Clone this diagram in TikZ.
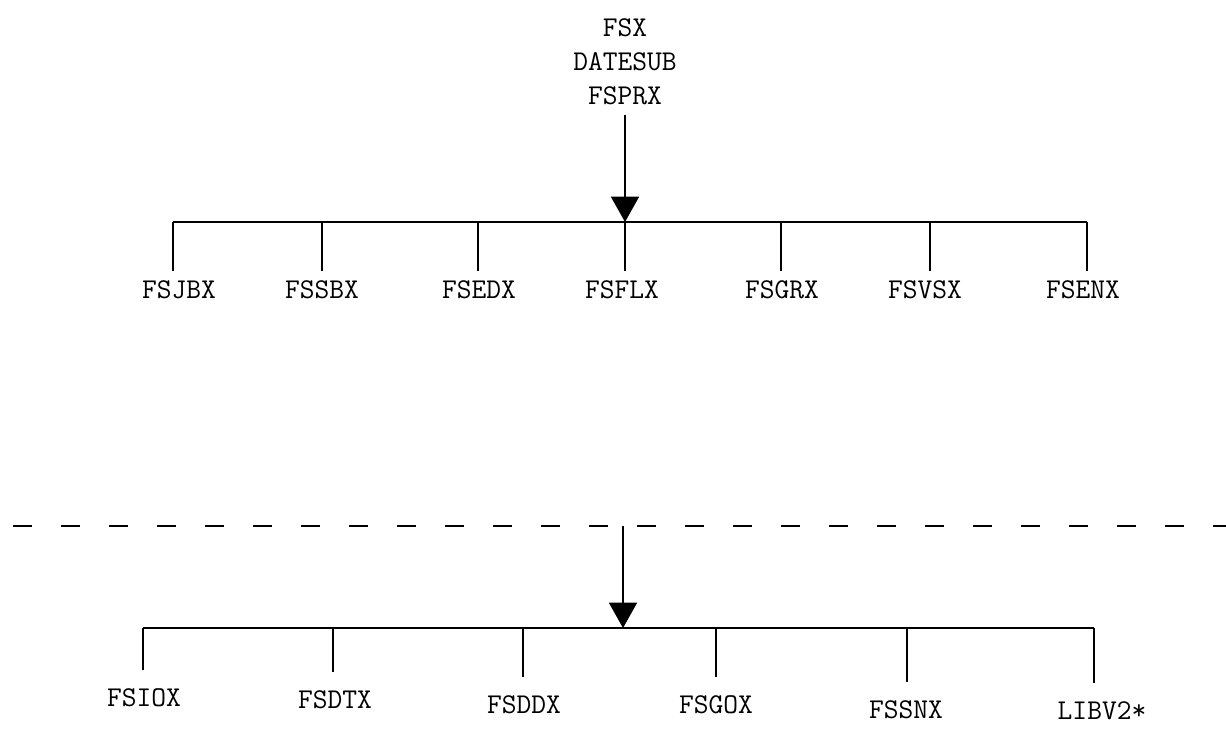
\documentclass[tikz,border=0pt]{standalone}
\usepackage{fontspec}
\usetikzlibrary{arrows.meta}
\tikzset{
  mod/.style={font=\ttfamily\fontsize{21.5}{25.5}\selectfont, inner sep=7pt},
  bar/.style={line width=1.3pt},
  drop/.style={line width=1.3pt, shorten >=7pt},
  feed/.style={line width=1.3pt, -{Triangle[width=21pt,length=19pt]}},
  cut/.style={line width=1.2pt, dash pattern=on 14pt off 22pt},
}
\begin{document}
\begin{tikzpicture}[x=0.75pt,y=-0.75pt]
\useasboundingbox (0,0) rectangle (1226,737);
\node[mod,align=center] (fsx) at (625,62) {FSX\\DATESUB\\FSPRX};
\coordinate (hubup) at (625,222);
\coordinate (tjb) at (173,222);
\coordinate (tsb) at (322,222);
\coordinate (ted) at (478,222);
\coordinate (tgr) at (781,222);
\coordinate (tvs) at (930,222);
\coordinate (ten) at (1087,222);
\node[mod] (fsjbx) at (179,290) {FSJBX};
\node[mod] (fssbx) at (322,290) {FSSBX};
\node[mod] (fsedx) at (479,290) {FSEDX};
\node[mod] (fsflx) at (622,290) {FSFLX};
\node[mod] (fsgrx) at (782,290) {FSGRX};
\node[mod] (fsvsx) at (925,290) {FSVSX};
\node[mod] (fsenx) at (1083,290) {FSENX};
\draw[feed] (fsx.south) -- (hubup);
\draw[bar] (tjb) -- (ten);
\draw[bar] (tjb) -- (tjb |- fsjbx.north);
\draw[bar] (tsb) -- (tsb |- fssbx.north);
\draw[bar] (ted) -- (ted |- fsedx.north);
\draw[bar] (hubup) -- (hubup |- fsflx.north);
\draw[bar] (tgr) -- (tgr |- fsgrx.north);
\draw[bar] (tvs) -- (tvs |- fsvsx.north);
\draw[bar] (ten) -- (ten |- fsenx.north);
\coordinate (cutl) at (13,526);
\coordinate (cutr) at (1226,526);
\coordinate (cutm) at (623,526);
\draw[cut] (cutl) -- (cutr);
\coordinate (hubdn) at (623,628);
\coordinate (tio) at (143,628);
\coordinate (tdt) at (333,628);
\coordinate (tdd) at (523,628);
\coordinate (tgo) at (716,628);
\coordinate (tsn) at (907,628);
\coordinate (tlb) at (1094,628);
\node[mod] (fsiox) at (144,698) {FSIOX};
\node[mod] (fsdtx) at (335,700) {FSDTX};
\node[mod] (fsddx) at (524,705) {FSDDX};
\node[mod] (fsgox) at (716,705) {FSGOX};
\node[mod] (fssnx) at (906,710) {FSSNX};
\node[mod] (libv) at (1102,711) {LIBV2*};
\draw[feed] (cutm) -- (hubdn);
\draw[bar] (tio) -- (tlb);
\draw[drop] (tio) -- (tio |- fsiox.north);
\draw[drop] (tdt) -- (tdt |- fsdtx.north);
\draw[drop] (tdd) -- (tdd |- fsddx.north);
\draw[drop] (tgo) -- (tgo |- fsgox.north);
\draw[drop] (tsn) -- (tsn |- fssnx.north);
\draw[drop] (tlb) -- (tlb |- libv.north);
\end{tikzpicture}
\end{document}
